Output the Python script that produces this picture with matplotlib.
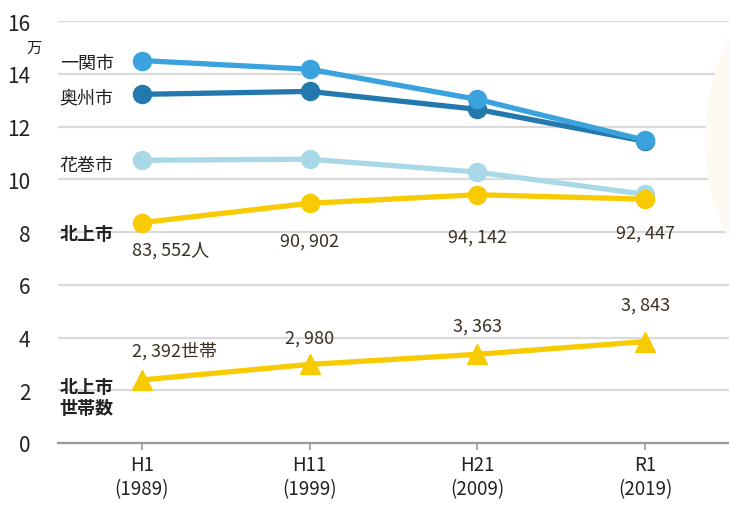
import matplotlib
matplotlib.use("Agg")
import matplotlib.pyplot as plt
from matplotlib.patches import Ellipse

plt.rcParams['font.family'] = ['Noto Sans CJK JP', 'DejaVu Sans']

# ---- data (units: 10,000 = 万) ----
periods = ["H1\n(1989)", "H11\n(1999)", "H21\n(2009)", "R1\n(2019)"]
ichinoseki = [14.50, 14.17, 13.03, 11.48]
oshu = [13.22, 13.33, 12.65, 11.44]
hanamaki = [10.72, 10.76, 10.27, 9.43]
kitakami = [8.3552, 9.0902, 9.4142, 9.2447]
kitakami_households = [2.392, 2.980, 3.363, 3.843]
kitakami_labels = ["83, 552人", "90, 902", "94, 142", "92, 447"]
household_labels = ["2, 392世帯", "2, 980", "3, 363", "3, 843"]
yticks = [0, 2, 4, 6, 8, 10, 12, 14, 16]

C_ICHI = "#3aa3de"
C_OSHU = "#2379ad"
C_HANA = "#a9d9e8"
C_KITA = "#f8ca00"
TXT = "#3a3122"

fig = plt.figure(figsize=(7.29, 5.06), dpi=100)
ax = fig.add_axes([58/729, 62/506, 671/729, 422/506])

# faint background circle on right
fig.patches.append(Ellipse((925/729, 1 - 140/506), 440/729, 440/506, transform=fig.transFigure,
                           facecolor="#fefaf2", edgecolor="none", zorder=0))
ax.set_facecolor("none")

x = list(range(len(periods)))
lw = 3.8
ms = 13
ax.plot(x, hanamaki, color=C_HANA, lw=lw, marker="o", ms=ms, zorder=3)
ax.plot(x, kitakami, color=C_KITA, lw=lw, marker="o", ms=ms, zorder=4)
ax.plot(x, oshu, color=C_OSHU, lw=lw, marker="o", ms=ms, zorder=3)
ax.plot(x, ichinoseki, color=C_ICHI, lw=lw, marker="o", ms=ms, zorder=4)
ax.plot(x, kitakami_households, color=C_KITA, lw=lw, marker="^", ms=15, zorder=4)

ax.set_xlim(-0.5, 3.5)
ax.set_ylim(0, 16)
ax.set_yticks(yticks)
ax.set_yticklabels([str(v) for v in yticks], fontsize=15, color="#222222")
ax.set_xticks(x)
ax.set_xticklabels(periods, fontsize=13.5, color="#222222", linespacing=1.2)
ax.tick_params(axis="y", length=0, pad=20)
ax.tick_params(axis="x", length=5, width=1.2, color="#999999", direction="out", pad=3)
ax.grid(axis="y", color="#dadada", lw=1.6, zorder=0)
ax.set_axisbelow(True)
for s in ["top", "right", "left"]:
    ax.spines[s].set_visible(False)
ax.spines["bottom"].set_color("#999999")
ax.spines["bottom"].set_linewidth(1.6)
ax.spines["bottom"].set_zorder(5)

# unit
ax.text(-0.64, 15.0, "万", fontsize=11, color="#222222", ha="center", va="center")

# series labels
lab_kw = dict(fontsize=13, color="#222222", ha="left", va="center")
ax.text(-0.49, 14.42, "一関市", **lab_kw)
ax.text(-0.49, 13.09, "奥州市", **lab_kw)
ax.text(-0.49, 10.55, "花巻市", **lab_kw)
ax.text(-0.49, 7.96, "北上市", fontweight="bold", **lab_kw)
ax.text(-0.49, 1.74, "北上市\n世帯数", fontweight="bold", linespacing=1.15, **lab_kw)

# value labels
val_kw = dict(fontsize=13, color=TXT, va="center")
offs_pop = [-19.5, -27, -30, -24]
for i, (v, t) in enumerate(zip(kitakami, kitakami_labels)):
    ha = "left" if i == 0 else "center"
    dx = -7 if i == 0 else 0
    ax.annotate(t, (i, v), xytext=(dx, offs_pop[i]), textcoords="offset points", ha=ha, **val_kw)
offs_hh = [21.5, 19.5, 21, 27]
for i, (v, t) in enumerate(zip(kitakami_households, household_labels)):
    ha = "left" if i == 0 else "center"
    dx = -7 if i == 0 else 0
    ax.annotate(t, (i, v), xytext=(dx, offs_hh[i]), textcoords="offset points", ha=ha, **val_kw)

fig.savefig("out.png", dpi=100)
